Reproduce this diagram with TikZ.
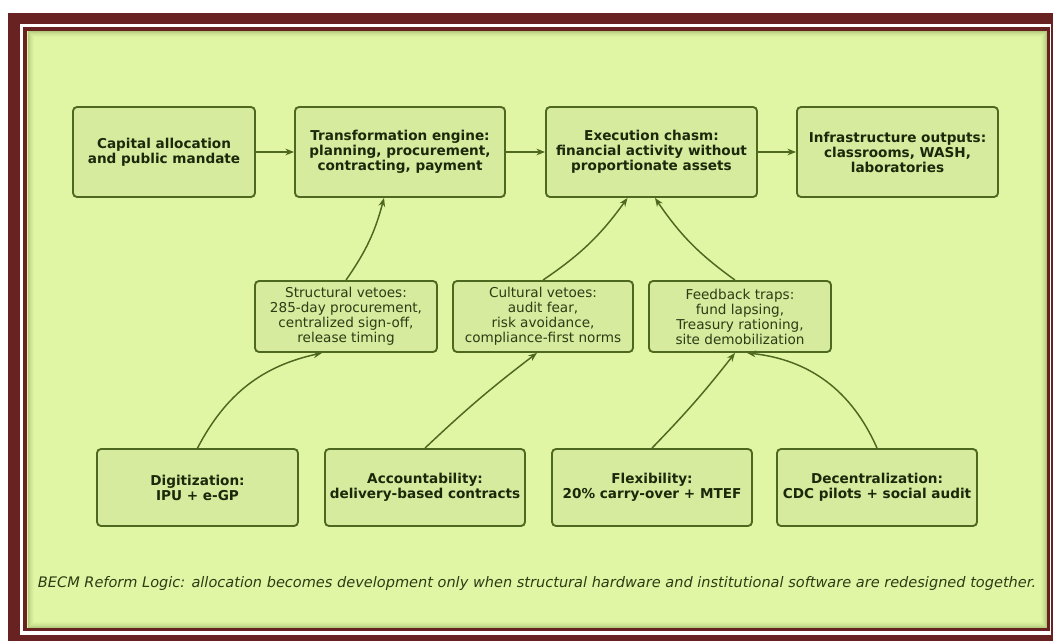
\documentclass[tikz,border=0pt]{standalone}
\usepackage{fontspec}
\setmainfont{DejaVu Sans}
\usetikzlibrary{arrows.meta}
\definecolor{frame}{RGB}{104,34,34}
\definecolor{panel}{RGB}{224,246,164}
\definecolor{boxfill}{RGB}{214,235,158}
\definecolor{edge}{RGB}{78,104,32}
\definecolor{ink}{RGB}{28,40,10}
\definecolor{midink}{RGB}{45,60,20}
\begin{document}
\begin{tikzpicture}[x=0.75pt,y=-0.75pt,
	box/.style={draw=edge,fill=boxfill,line width=1.4pt,rounded corners=3pt,align=center,inner sep=1pt,text=ink,font=\fontsize{10.2}{11.25}\selectfont\bfseries},
	stage/.style={box,minimum height=67.5pt},
	veto/.style={box,minimum height=53.25pt,minimum width=136.5pt,text=midink,font=\fontsize{10.2}{11.25}\selectfont},
	lever/.style={box,minimum height=57.75pt,minimum width=150pt},
	flow/.style={draw=edge,line width=1.1pt,-{Stealth[length=6.5pt,width=5pt]}}]
	\useasboundingbox (0,0) rectangle (1053,641);
	\fill[white] (0,0) rectangle (1053,641);
	\fill[frame] (8,13) rectangle (1053,641);
	\fill[white] (20,24) rectangle (1051,635);
	\fill[frame] (23,27) rectangle (1050,631);
	\fill[panel] (27,31) rectangle (1047,628);
	\foreach \i/\o in {1/0.30,2/0.22,3/0.15,4/0.10,5/0.06,6/0.03}
		\draw[edge,opacity=\o,line width=0.75pt] ({27+\i},{31+\i}) rectangle ({1047-\i},{628-\i});

	\node[stage,minimum width=136.5pt] (cap) at (164,152) {Capital allocation\\and public mandate};
	\node[stage,minimum width=157.5pt] (eng) at (400,152) {Transformation engine:\\planning, procurement,\\contracting, payment};
	\node[stage,minimum width=158.25pt] (exe) at (651.5,152) {Execution chasm:\\financial activity without\\proportionate assets};
	\node[stage,minimum width=150.75pt] (inf) at (897.5,152) {Infrastructure outputs:\\classrooms, WASH,\\laboratories};

	\node[veto] (str) at (346,316.5) {Structural vetoes:\\285-day procurement,\\centralized sign-off,\\release timing};
	\node[veto,minimum width=135pt] (cul) at (543,316.5) {Cultural vetoes:\\audit fear,\\risk avoidance,\\compliance-first norms};
	\node[veto] (fbk) at (740,316.5) {Feedback traps:\\fund lapsing,\\Treasury rationing,\\site demobilization};

	\node[lever,minimum width=150.75pt] (dig) at (197.5,487.5) {Digitization:\\IPU + e-GP};
	\node[lever] (acc) at (425,487.5) {Accountability:\\delivery-based contracts};
	\node[lever] (flx) at (652,487.5) {Flexibility:\\20\% carry-over + MTEF};
	\node[lever] (dec) at (877,487.5) {Decentralization:\\CDC pilots + social audit};

	\node[text=midink,font=\fontsize{10.9}{12}\selectfont\itshape] (note) at (537,583) {BECM Reform Logic: allocation becomes development only when structural hardware and institutional software are redesigned together.};

	\draw[flow] (cap) -- (eng);
	\draw[flow] (eng) -- (exe);
	\draw[flow] (exe) -- (inf);
	\draw[flow] (str.north) to[bend right=10] ([xshift=-12pt]eng.south);
	\draw[flow] (cul.north) to[bend right=10] ([xshift=-18pt]exe.south);
	\draw[flow] ([xshift=-3.75pt]fbk.north) to[bend left=10] ([xshift=2.6pt]exe.south);
	\draw[flow] (dig.north) to[bend left=25] ([xshift=-18pt]str.south);
	\draw[flow] (acc.north) to[bend left=3] ([xshift=-4.5pt]cul.south);
	\draw[flow] (flx.north) to[bend right=3] ([xshift=-3.75pt]fbk.south);
	\draw[flow] (dec.north) to[bend right=30] ([xshift=5.25pt]fbk.south);
\end{tikzpicture}
\end{document}
